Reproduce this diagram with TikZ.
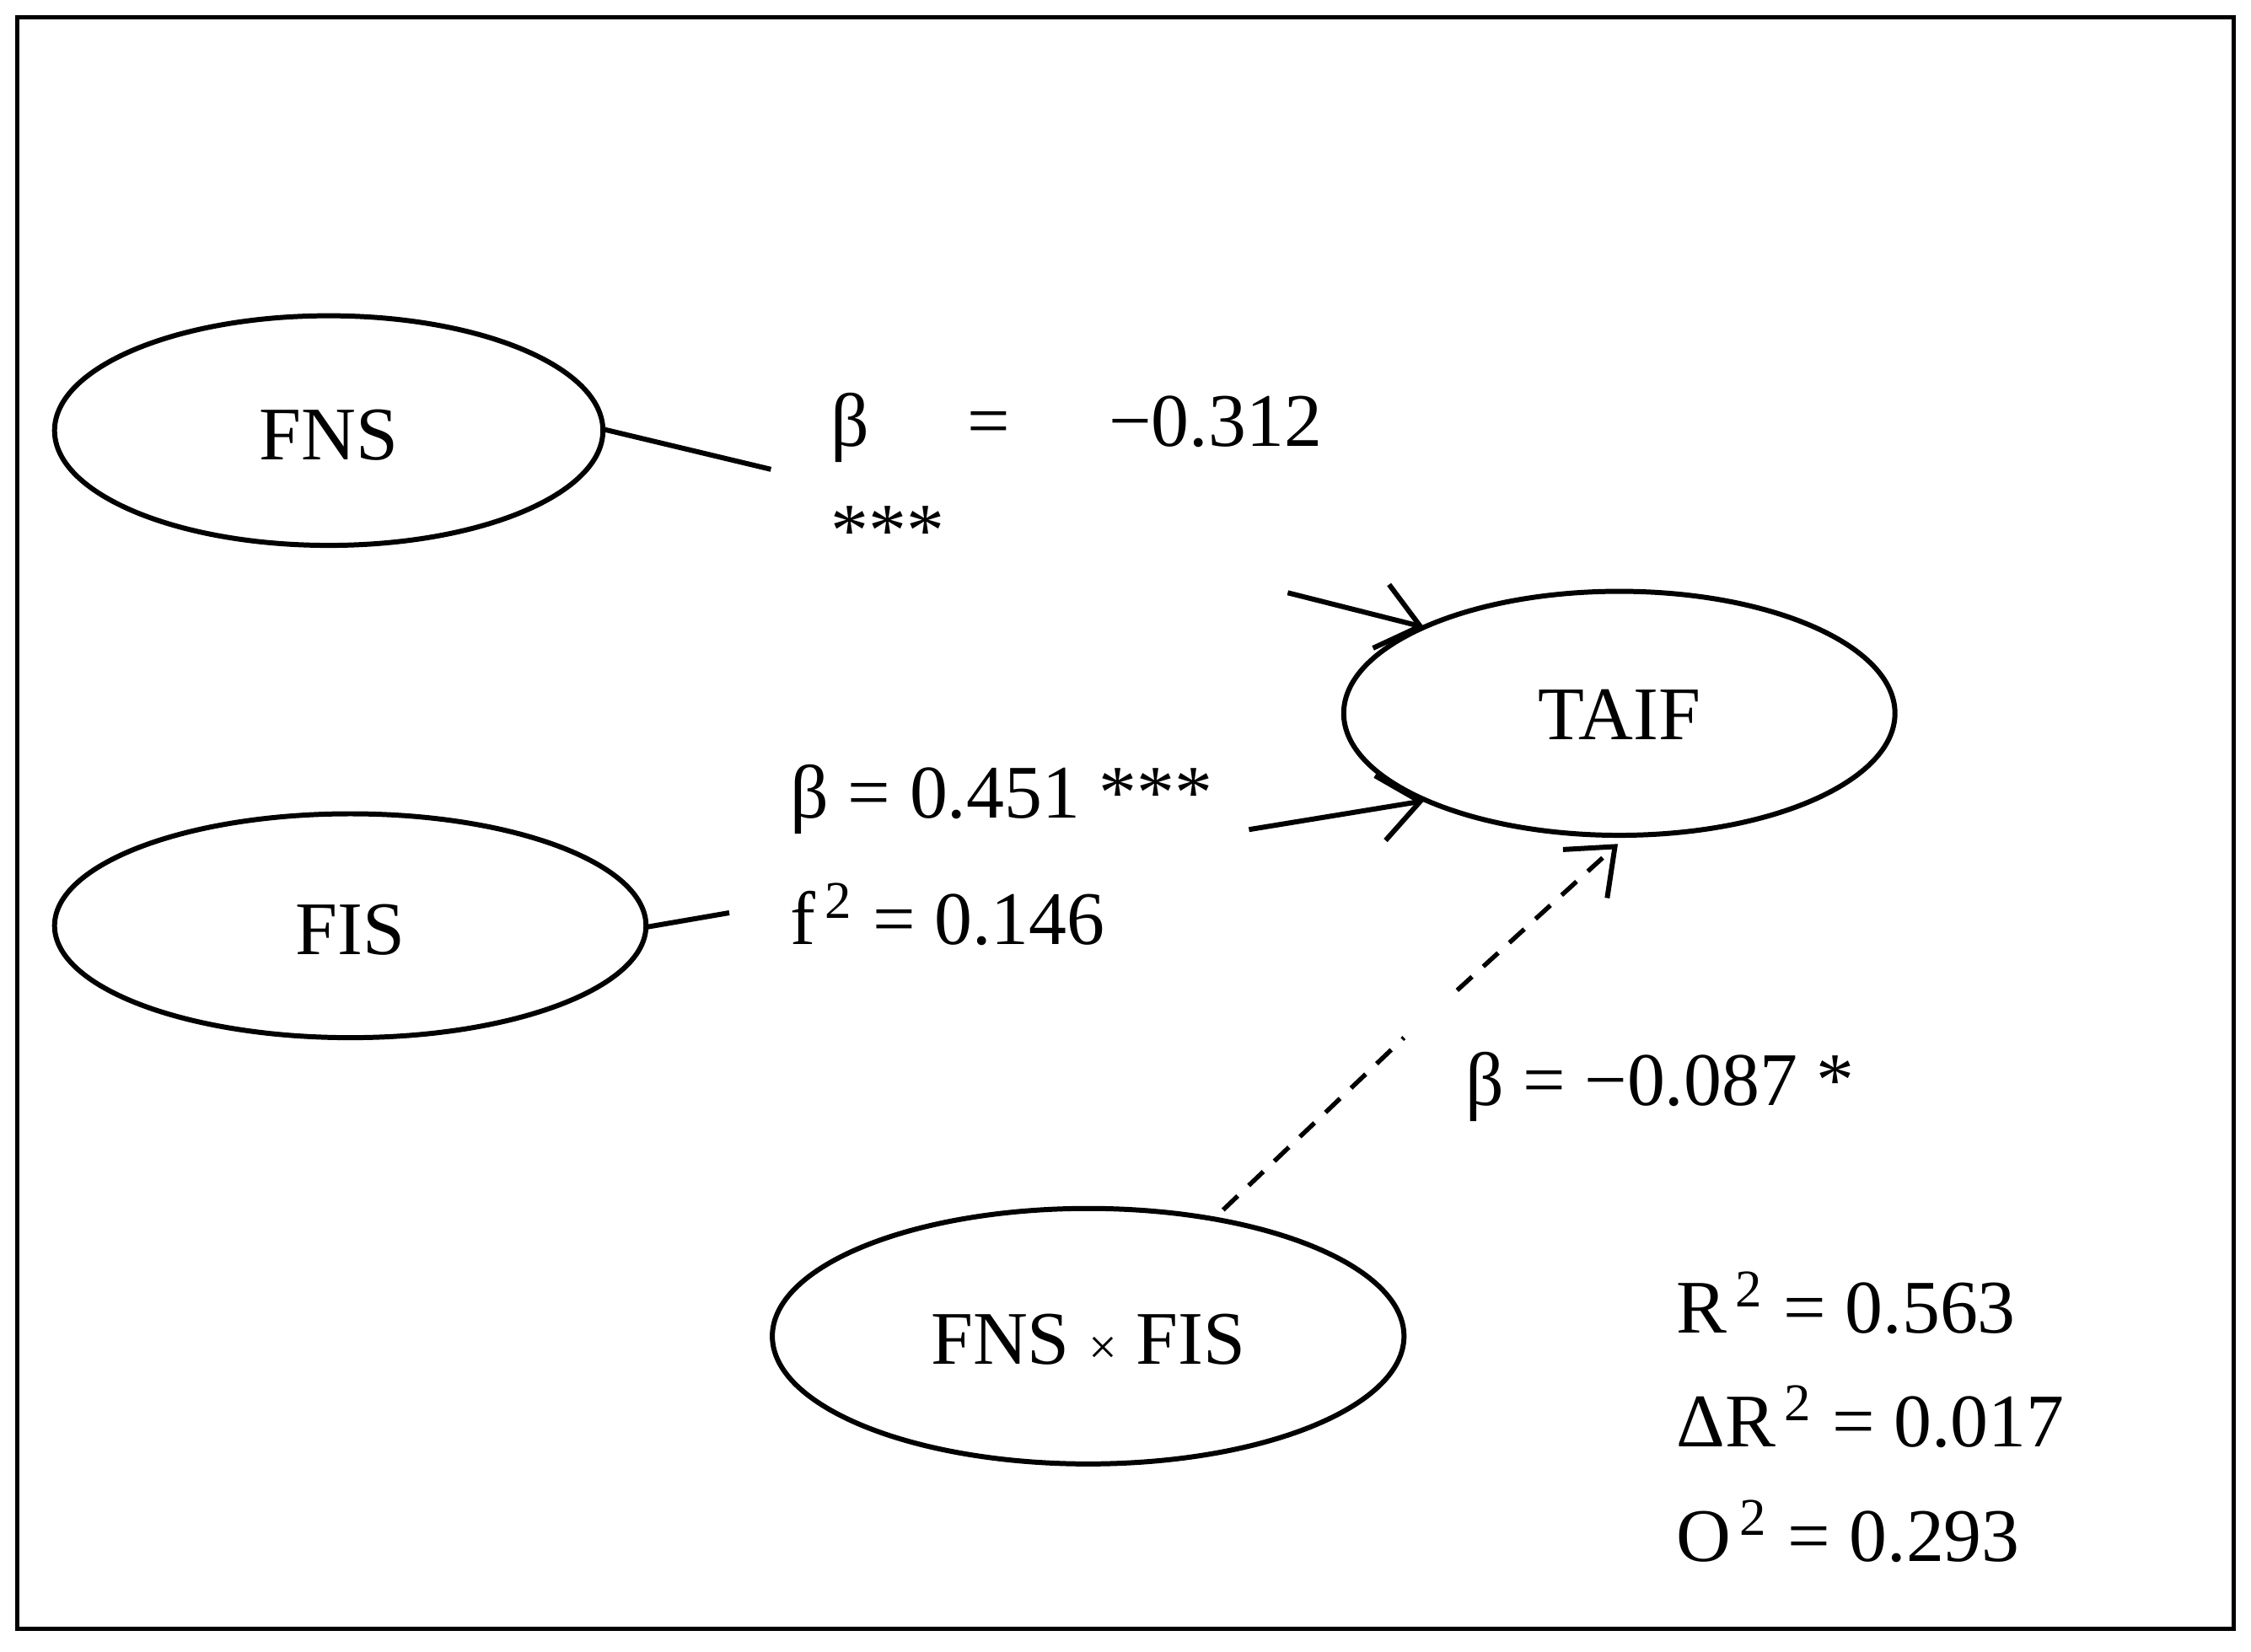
\documentclass[tikz,border=0pt]{standalone}
\usepackage{fontspec}
\setmainfont{Liberation Serif}
\usetikzlibrary{arrows.meta}
\begin{document}
\begin{tikzpicture}[x=0.01cm,y=-0.01cm,
  ell/.style={draw,line width=1pt},
  txt/.style={font=\fontsize{15}{18}\selectfont},
  lab/.style={txt,anchor=west,inner sep=0pt},
  con/.style={line width=1pt},
  tip/.style={-{Straight Barb[length=8pt,width=13pt,line width=1pt]}},
  dsh/.style={line width=0.9pt,dash pattern=on 4pt off 3pt}]
\useasboundingbox (0,0) rectangle (1568,1151);
\draw[line width=0.9pt] (12,12) rectangle (1556,1135);
\draw[ell] (229,300) ellipse [x radius=191,y radius=80];
\draw[ell] (244,645) ellipse [x radius=206,y radius=78];
\draw[ell] (1128,497) ellipse [x radius=192,y radius=85];
\draw[ell] (758,931) ellipse [x radius=220,y radius=89];
\node[txt] (fns) at (229,303) {FNS};
\node[txt] (fis) at (244,648) {FIS};
\node[txt] (taif) at (1128,498) {TAIF};
\node[txt] (int) at (758,933) {FNS {\fontsize{10}{12}\selectfont ×} FIS};
\coordinate (a1) at (420,299); \coordinate (a2) at (537,327);
\coordinate (a3) at (897,413); \coordinate (a4) at (992,437);
\coordinate (b1) at (450,646); \coordinate (b2) at (508,636);
\coordinate (b3) at (870,578); \coordinate (b4) at (992,558);
\coordinate (c1) at (852,843); \coordinate (c2) at (978,723);
\coordinate (c3) at (1015,690); \coordinate (c4) at (1127,588);
\draw[con] (a1)--(a2); \draw[con,tip] (a3)--(a4);
\draw[con] (b1)--(b2); \draw[con,tip] (b3)--(b4);
\draw[dsh] (c1)--(c2); \draw[dsh,tip] (c3)--(c4);
\node[lab] (l1) at (578,298) {β\hspace{1.3em}=\hspace{1.3em}−0.312};
\node[lab] (l2) at (578,370) {***};
\node[lab] (l3) at (550,557) {β = 0.451 ***};
\node[lab] (l4) at (550,637) {f\textsuperscript{\,2} = 0.146};
\node[lab] (l5) at (1020,757) {β = −0.087 *};
\node[lab] (l6) at (1167,908) {R\textsuperscript{\,2} = 0.563};
\node[lab] (l7) at (1167,987) {ΔR\textsuperscript{\,2} = 0.017};
\node[lab] (l8) at (1167,1067) {O\textsuperscript{\,2} = 0.293};
\end{tikzpicture}
\end{document}
